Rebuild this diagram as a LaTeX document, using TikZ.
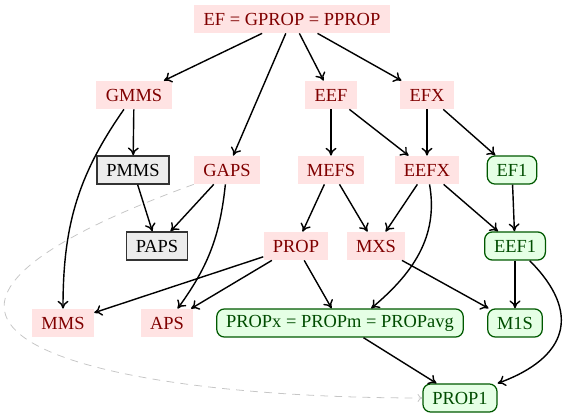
\documentclass[tikz,border=0pt]{standalone}
\usepackage{amsmath,amssymb}
\usepackage{fontspec}
\setmainfont{Liberation Serif}
\usepackage{tikz}
\usetikzlibrary{arrows.meta}

\begin{document}
\begin{tikzpicture}[
  x=0.64pt, y=0.64pt,
  font=\fontsize{11.8}{14}\selectfont,
  >={To[length=5pt,width=7pt]},
  fairnode/.style={fill=red!11, text=red!50!black, minimum height=18pt, inner xsep=6pt, inner ysep=2pt},
  onenode/.style={draw=green!35!black, fill=green!10, text=green!30!black, line width=0.8pt, rounded corners=5pt, minimum height=18pt, inner xsep=6pt, inner ysep=2pt},
  boxnode/.style={draw=black!80, fill=gray!15, line width=0.8pt, minimum height=18pt, inner xsep=6pt, inner ysep=2pt},
  implmap/.style={->, draw=black, line width=0.9pt},
  weakmap/.style={-{To[length=3pt,width=5pt]}, draw=gray!45, line width=0.5pt, dash pattern=on 5pt off 4pt}
]
  \useasboundingbox (0,0) rectangle (566,418);
  % top
  \node[fairnode] (ef) at (292,399) {EF = GPROP = PPROP};
  \node[fairnode] (gmms) at (134,323) {GMMS};
  \node[fairnode] (eef) at (331,323) {EEF};
  \node[fairnode] (efx) at (427,323) {EFX};
  \node[boxnode] (pmms) at (133,248) {PMMS};
  \node[fairnode] (gaps) at (227,248) {GAPS};
  \node[fairnode] (mefs) at (331,248) {MEFS};
  \node[fairnode] (eefx) at (427,248) {EEFX};
  \node[onenode] (efone) at (512,248) {EF1};
  \node[boxnode] (paps) at (157,172) {PAPS};
  \node[fairnode] (prop) at (296,172) {PROP};
  \node[fairnode] (mxs) at (376,172) {MXS};
  \node[onenode] (eefone) at (515,172) {EEF1};
  % bottom
  \node[fairnode] (mms) at (63,95) {MMS};
  \node[fairnode] (aps) at (167,95) {APS};
  \node[onenode] (propx) at (340,95) {PROPx = PROPm = PROPavg};
  \node[onenode] (mones) at (515,95) {M1S};
  \node[onenode] (propone) at (460,20) {PROP1};

  \draw[implmap] (ef) -- (gmms);
  \draw[implmap] (ef) -- (gaps);
  \draw[implmap] (ef) -- (eef);
  \draw[implmap] (ef) -- (efx);
  \draw[implmap] (gmms) -- (pmms);
  \draw[implmap] (gmms) to[out=-125,in=90] (mms);
  \draw[implmap] (pmms) -- (paps);
  \draw[implmap] (gaps) -- (paps);
  \draw[implmap] (gaps) to[bend left=15] (aps);
  \draw[implmap] (eef) -- (mefs);
  \draw[implmap] (eef) -- (eefx);
  \draw[implmap] (efx) -- (eefx);
  \draw[implmap] (efx) -- (efone);
  \draw[implmap] (mefs) -- (prop);
  \draw[implmap] (mefs) -- (mxs);
  \draw[implmap] (eefx) -- (mxs);
  \draw[implmap] (eefx) -- (eefone);
  \draw[implmap] (efone) -- (eefone);
  \draw[implmap] (eefx) to[out=-80,in=40] ([xshift=20pt]propx.north);
  \draw[implmap] (prop) -- (mms);
  \draw[implmap] (prop) -- (aps);
  \draw[implmap] (prop) -- (propx);
  \draw[implmap] (mxs) -- (mones);
  \draw[implmap] (eefone) -- (mones);
  \draw[implmap] (eefone) to[out=-45,in=20,looseness=1.5] (propone.north east);
  \draw[implmap] (propx) -- (propone);
  \draw[weakmap] (gaps.south west) .. controls +(200:420) and +(180:330) .. (propone.west);
\end{tikzpicture}
\end{document}
